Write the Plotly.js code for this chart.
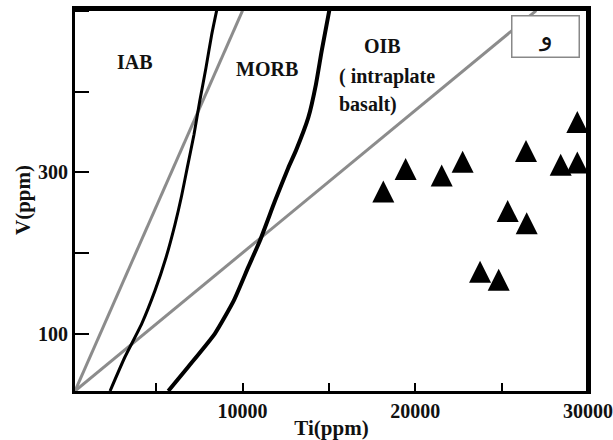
<!DOCTYPE html>
<html>
<head>
<meta charset="utf-8">
<script src="https://cdn.plot.ly/plotly-3.0.1.min.js"></script>
<style>html,body{margin:0;padding:0;background:#fff}#chart{width:613px;height:440px}</style>
</head>
<body>
<div id="chart"></div>
<script>
// Sample data (Ti, V in ppm)
const sampleTi = [18150, 19440, 21530, 22740, 26410, 28420, 29380, 25350, 26450, 23750, 24830, 29380];
const sampleV  = [290, 318, 310, 327, 340, 323, 326, 266, 251, 191, 181, 376];

// Boundary curves
const iabMorbTi = [2330, 3190, 4160, 4930, 5570, 6090, 6470, 6800, 7190, 7520, 7880, 8210, 8500];
const iabMorbV  = [30, 72, 113, 154, 195, 236, 271, 306, 347, 388, 429, 470, 500];
const morbOibTi = [5700, 6860, 8400, 9500, 10330, 11010, 11880, 12650, 13090, 13810, 14250, 14580, 15020];
const morbOibV  = [30, 60, 101, 142, 183, 216, 265, 306, 327, 368, 409, 450, 500];

// Ti/V reference lines
const ratio20Ti = [300, 10000];
const ratio20V  = [30, 500];
const ratio50Ti = [300, 27000];
const ratio50V  = [30, 500];

// Axis ranges and ticks
const rangeTi = [300, 30000];
const rangeV  = [30, 502];
const xTickVals = [5000, 10000, 15000, 20000, 25000, 30000];
const xTickText = ['', '10000', '', '20000', '', '30000'];
const yTickVals = [100, 200, 300, 400, 500];
const yTickText = ['100', '', '300', '', '500'];

const serif = {family: 'Liberation Serif, Times New Roman, serif', size: 20, color: '#111', weight: 'bold'};

const traces = [
  {x: ratio20Ti, y: ratio20V, mode: 'lines', line: {color: '#8c8c8c', width: 3}, hoverinfo: 'skip'},
  {x: ratio50Ti, y: ratio50V, mode: 'lines', line: {color: '#8c8c8c', width: 3}, hoverinfo: 'skip'},
  {x: iabMorbTi, y: iabMorbV, mode: 'lines', line: {color: '#000', width: 3, shape: 'spline', smoothing: 0.5}, hoverinfo: 'skip'},
  {x: morbOibTi, y: morbOibV, mode: 'lines', line: {color: '#000', width: 4, shape: 'spline', smoothing: 0.5}, hoverinfo: 'skip'},
  // top and right frame edges at the axis ranges
  {x: [rangeTi[0], rangeTi[1], rangeTi[1]], y: [rangeV[1], rangeV[1], rangeV[0]], mode: 'lines',
   line: {color: '#000', width: 4}, hoverinfo: 'skip'},
  {x: sampleTi, y: sampleV, mode: 'markers', marker: {symbol: 'arrow-up', size: 22, color: '#000'}}
];

const layout = {
  width: 613, height: 440,
  margin: {l: 75, r: 25, t: 9, b: 49},
  showlegend: false,
  xaxis: {
    range: rangeTi, showgrid: false, zeroline: false,
    showline: true, linecolor: '#000', linewidth: 3, mirror: true,
    ticks: 'inside', ticklen: 8, tickwidth: 2, tickcolor: '#000',
    tickvals: xTickVals, ticktext: xTickText,
    tickfont: serif,
    title: {text: 'Ti(ppm)', standoff: 2, font: {family: serif.family, size: 21, color: '#111', weight: 'bold'}}
  },
  yaxis: {
    range: rangeV, showgrid: false, zeroline: false,
    showline: true, linecolor: '#000', linewidth: 3, mirror: true,
    ticks: 'inside', ticklen: 14, tickwidth: 2, tickcolor: '#000',
    tickvals: yTickVals, ticktext: yTickText,
    tickfont: serif,
    title: {text: 'V(ppm)', standoff: 2, font: {family: serif.family, size: 21, color: '#111', weight: 'bold'}}
  },
  annotations: [
    {x: 3770, y: 437, xref: 'x', yref: 'y', text: 'IAB', showarrow: false, font: serif},
    {x: 11400, y: 428, xref: 'x', yref: 'y', text: 'MORB', showarrow: false, font: serif},
    {x: 18130, y: 456, xref: 'x', yref: 'y', text: 'OIB', showarrow: false, font: serif},
    {x: 15470, y: 419, xref: 'x', yref: 'y', text: '( intraplate', xanchor: 'left', showarrow: false, font: serif},
    {x: 15470, y: 384, xref: 'x', yref: 'y', text: 'basalt)', xanchor: 'left', showarrow: false, font: serif},
    {x: 0.917, y: 0.928, xref: 'paper', yref: 'paper', xanchor: 'center', yanchor: 'middle',
     text: 'و', showarrow: false,
     width: 64, height: 38, bgcolor: '#fff', bordercolor: '#888', borderwidth: 1.5,
     font: {family: 'DejaVu Sans, Noto Sans, sans-serif', size: 26, color: '#111'}}
  ]
};

Plotly.newPlot('chart', traces, layout, {displayModeBar: false});
</script>
</body>
</html>
